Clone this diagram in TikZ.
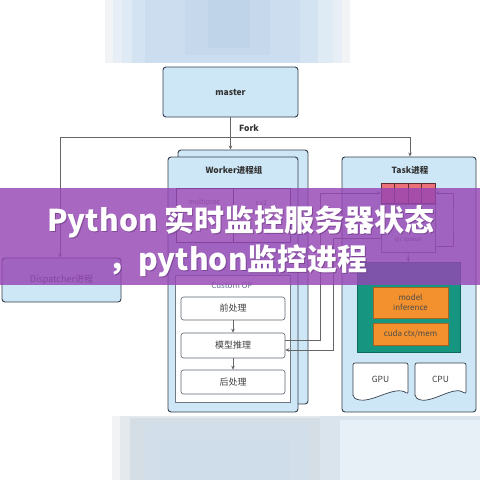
\documentclass[tikz,border=0pt]{standalone}
\usepackage{fontspec}
\setmainfont{Noto Sans CJK SC}
\usetikzlibrary{arrows.meta, positioning}
\definecolor{paleblue}{RGB}{206,231,247}
\definecolor{frameclr}{RGB}{52,62,76}
\definecolor{tealbg}{RGB}{22,150,128}
\definecolor{opbox}{RGB}{242,145,45}
\definecolor{qred}{RGB}{234,112,122}
\definecolor{bandpurple}{RGB}{150,70,180}
\definecolor{opgrey}{RGB}{95,112,140}
\definecolor{blurA}{RGB}{242,243,245}
\definecolor{blurB}{RGB}{222,234,244}
\definecolor{blurC}{RGB}{203,221,239}
\definecolor{blurD}{RGB}{192,212,233}
\definecolor{blurE}{RGB}{214,222,229}

\begin{document}
\begin{tikzpicture}[x=1pt, y=-1pt,
  pbox/.style={draw=frameclr, fill=paleblue, line width=0.9pt, rounded corners=3pt, inner sep=0pt},
  cell/.style={draw=frameclr, fill=white, line width=0.6pt, inner sep=0pt},
  wbox/.style={draw=frameclr!80, fill=white, line width=0.6pt, rounded corners=2.5pt, minimum width=104pt, minimum height=23pt, font=\fontsize{9}{10}\selectfont, text=black!75},
  obox/.style={draw=opbox!70!black, fill=opbox, minimum width=75pt, inner sep=1pt, align=center, font=\fontsize{8}{9.5}\selectfont, text=black!70},
  docbox/.style={draw=frameclr, fill=white, line width=0.7pt, rounded corners=2pt},
  link/.style={draw=black!60, line width=0.6pt},
  arr/.style={-{Stealth[length=4pt,width=3.5pt]}},
  ttl/.style={font=\bfseries\fontsize{8.5}{10}\selectfont, text=black!80},
  small/.style={font=\fontsize{7}{8}\selectfont, text=black!60},
  headline/.style={font=\bfseries\fontsize{30}{32}\selectfont, text=white}
]
  \useasboundingbox (0,0) rectangle (480,480);
  \fill[white] (0,0) rectangle (480,480);

  \fill[blurA] (105,0) rectangle (350,63);
  \fill[blurA!50!blurB] (113,0) rectangle (342,63);
  \fill[blurB] (122,0) rectangle (333,63);
  \fill[blurB!50!blurC] (132,0) rectangle (318,63);
  \fill[blurC] (145,0) rectangle (300,63);
  \fill[blurC!50!blurD] (185,0) rectangle (270,55);
  \fill[blurD] (208,0) rectangle (250,48);
  \fill[blurA] (112,416) rectangle (480,480);
  \fill[blurA!50!blurE] (120,416) rectangle (480,480);
  \fill[blurE] (130,418) rectangle (480,480);
  \fill[blurE!60!blurC] (145,425) rectangle (310,480);
  \fill[blurC!60!blurE] (160,440) rectangle (290,480);
  \fill[blurE!50!blurB] (320,416) rectangle (480,480);
  \fill[blurB!70!white] (340,420) rectangle (480,480);

  \node[pbox, ttl, minimum width=135pt, minimum height=50pt] (master) at (230.5,92) {master};
  \node[ttl] (forklbl) at (249,128) {Fork};

  \node[pbox, minimum width=130pt, minimum height=254pt] (workerback) at (243,277) {};
  \node[pbox, minimum width=130pt, minimum height=255pt] (worker) at (233,284.5) {};
  \node[ttl] (workerlbl) at (234,170) {Worker进程组};
  \node[cell, minimum width=57pt, minimum height=54pt] (libA) at (204.5,215) {};
  \node[cell, minimum width=57pt, minimum height=54pt] (libB) at (261.5,215) {};
  \node[small] (libAlbl) at (204.5,203) {multiproc};
  \node[small] (libBlbl) at (261.5,203) {cv2};
  \node[cell, draw=frameclr!70, minimum width=115pt, minimum height=127pt] (customop) at (232.5,338.5) {};
  \node[font=\fontsize{8}{9}\selectfont, text=opgrey] (customlbl) at (232,286) {Custom OP};
  \node[wbox] (pre) at (233,308.5) {前处理};
  \node[wbox, minimum height=25pt] (infer) at (233,345.5) {模型推理};
  \node[wbox, minimum height=24pt] (post) at (233,382) {后处理};
  \draw[link, arr] (pre) -- (infer);
  \draw[link, arr] (infer) -- (post);

  \node[pbox, minimum width=119pt, minimum height=44pt, font=\fontsize{9}{10}\selectfont, text=black!75] (dispatcher) at (61.5,280) {Dispatcher进程};

  \node[pbox, minimum width=134pt, minimum height=255pt] (task) at (409,284.5) {};
  \node[ttl] (tasklbl) at (410,170) {Task进程};
  \node[draw=black!55, line width=0.5pt, minimum width=54pt, minimum height=48pt] (qbox) at (408,228) {};
  \node[small, font=\fontsize{6}{7}\selectfont] (qboxlbl) at (408,240) {ipc queue};
  \node[draw=qred!40!black, fill=qred, line width=0.7pt, minimum width=54pt, minimum height=20pt] (queue) at (408,193) {};
  \foreach \qx in {-13.5,0,13.5}
    \draw[qred!40!black, line width=0.6pt] ([xshift=\qx pt]queue.north) -- ([xshift=\qx pt]queue.south);
  \node[draw=tealbg!70!black, fill=tealbg, minimum width=103pt, minimum height=90pt] (gpuctx) at (408.5,307) {};
  \node[obox, minimum height=31pt] (inference) at (410.5,302.5) {model\\inference};
  \node[obox, minimum height=22pt] (cudamem) at (410.5,334) {cuda ctx/mem};

  \draw[docbox] (353,397) -- (353,363) -- (408,363) -- (408,394)
    .. controls (394,384) and (368,407) .. (353,397) -- cycle;
  \draw[docbox] (415,397) -- (415,363) -- (466,363) -- (466,394)
    .. controls (453,384) and (429,407) .. (415,397) -- cycle;
  \node[font=\fontsize{8.5}{10}\selectfont, text=black!75] (gpu) at (380.5,379) {GPU};
  \node[font=\fontsize{8.5}{10}\selectfont, text=black!75] (cpu) at (440.5,379) {CPU};

  \coordinate (forkL) at (60,137);
  \coordinate (forkR) at (410,137);
  \coordinate (link1) at (320,193);
  \coordinate (link2) at (333,238);
  \coordinate (loopR) at (453,220);
  \draw[link] (master.south) -- (master.south |- forkL);
  \draw[link] (forkL) -- (forkR);
  \draw[link, arr] (forkL) -- (forkL |- dispatcher.north);
  \draw[link, arr] (master.south |- forkL) -- (master.south |- workerback.north);
  \draw[link, arr] (forkR) -- (forkR |- task.north);
  \draw[link, arr] ([yshift=5.5pt]infer.east) -| (link1) -- (queue.west);
  \draw[link, arr] (qbox.west |- link2) -- (link2) |- ([yshift=-4.5pt]infer.east);
  \draw[link, arr] ([yshift=6pt]qbox.south east) -| (loopR) |- (queue.east);
  \draw[link, arr] (qbox.south) -- (gpuctx.north);

  \fill[bandpurple, opacity=0.82] (0,188) rectangle (480,285);
  \node[headline, text=bandpurple!60!black, opacity=0.5] (title1shadow) at (242,223) {Python 实时监控服务器状态};
  \node[headline, text=bandpurple!60!black, opacity=0.5] (title2shadow) at (239,262) {，python监控进程};
  \node[headline] (title1) at (241,222) {Python 实时监控服务器状态};
  \node[headline] (title2) at (238,261) {，python监控进程};
\end{tikzpicture}
\end{document}
